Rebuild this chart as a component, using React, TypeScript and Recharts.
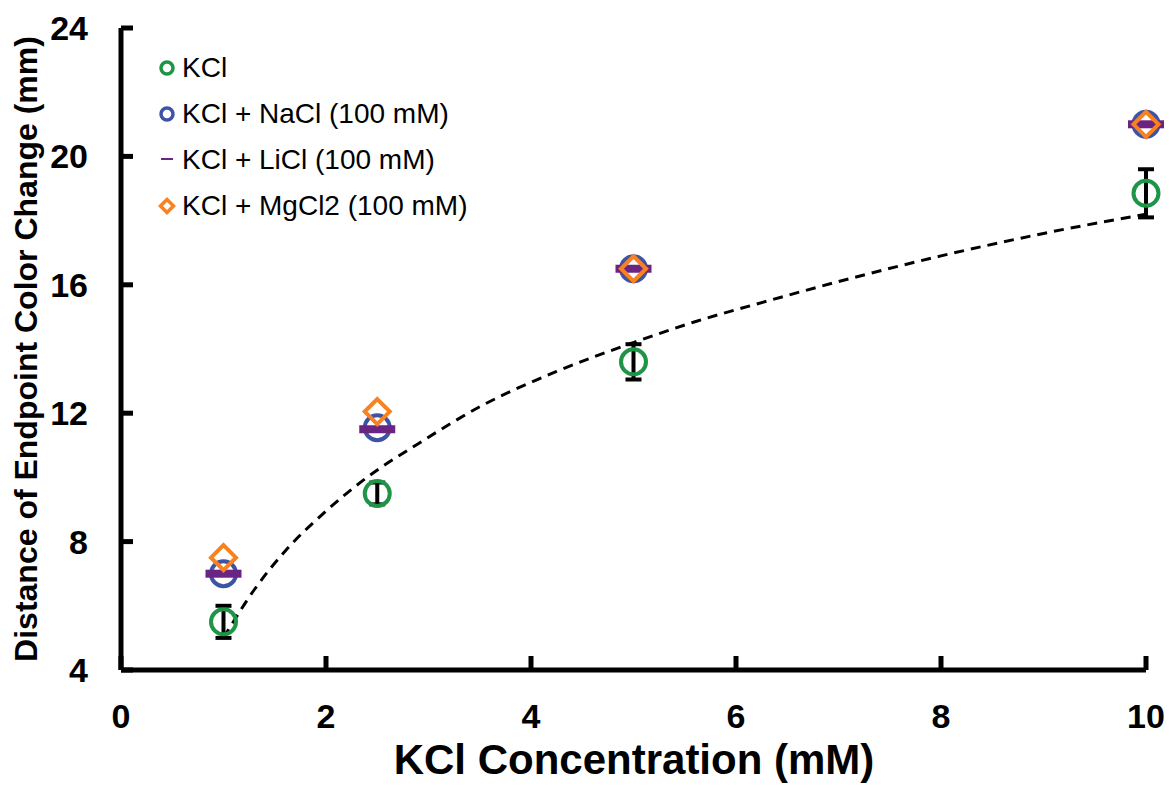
import React from "react";
import {
  ComposedChart,
  Scatter,
  Line,
  XAxis,
  YAxis,
  ErrorBar,
  Legend,
} from "recharts";

// KCl concentration (mM) for every series
const concentrations = [1, 2.5, 5, 10];
const kclValues = [5.5, 9.5, 13.6, 18.85];
const kclErrors = [0.5, 0.34, 0.55, 0.75];
const naclValues = [7.0, 11.55, 16.5, 21.0];
const liclValues = [7.0, 11.5, 16.5, 21.0];
const mgcl2Values = [7.5, 12.05, 16.5, 21.0];

// dashed trend curve
const trendX = [1, 1.3, 1.6, 2, 2.4, 2.9, 3.5, 4.25, 5, 5.6, 6.2, 7, 8, 9, 10];
const trendY = [5.0, 6.5, 7.7, 8.95, 10.0, 11.05, 12.2, 13.3, 14.2, 14.85, 15.4, 16.1, 16.9, 17.6, 18.2];

const xTicks = [0, 2, 4, 6, 8, 10];
const yTicks = [4, 8, 12, 16, 20, 24];

const GREEN = "#1e9447";
const BLUE = "#3e53a4";
const PURPLE = "#6b2481";
const ORANGE = "#f7821f";
const FONT = "'Liberation Sans', Arial, sans-serif";

const kclData = concentrations.map((x, i) => ({ x, y: kclValues[i], err: kclErrors[i] }));
const naclData = concentrations.map((x, i) => ({ x, y: naclValues[i] }));
const liclData = concentrations.map((x, i) => ({ x, y: liclValues[i] }));
const mgcl2Data = concentrations.map((x, i) => ({ x, y: mgcl2Values[i] }));
const trendData = trendX.map((x, i) => ({ x, y: trendY[i] }));

const legendItems = [
  { name: "KCl", kind: "circle", color: GREEN },
  { name: "KCl + NaCl (100 mM)", kind: "circle", color: BLUE },
  { name: "KCl + LiCl (100 mM)", kind: "dash", color: PURPLE },
  { name: "KCl + MgCl2 (100 mM)", kind: "diamond", color: ORANGE },
];

// marker shapes
const Ring = (color: string) => (props: any) => {
  const { cx, cy } = props;
  return <circle cx={cx} cy={cy} r={12.5} fill="none" stroke={color} strokeWidth={4} />;
};

const Bar = (props: any) => {
  const { cx, cy } = props;
  return <rect x={cx - 18} y={cy - 4} width={36} height={8} fill={PURPLE} />;
};

const Diamond = (props: any) => {
  const { cx, cy } = props;
  const r = 12.5;
  return (
    <polygon
      points={`${cx},${cy - r} ${cx + r},${cy} ${cx},${cy + r} ${cx - r},${cy}`}
      fill="none"
      stroke={ORANGE}
      strokeWidth={4}
    />
  );
};

const Nothing = () => <g />;

// ticks drawn inside the plot, labels outside
const YTick = (props: any) => {
  const { x, y, payload } = props;
  return (
    <g>
      <line x1={x} x2={x + 12} y1={y} y2={y} stroke="#000" strokeWidth={5} />
      <text x={x - 33} y={y + 12} textAnchor="end" fontSize={34} fontWeight="bold" fontFamily={FONT} fill="#000">
        {payload.value}
      </text>
    </g>
  );
};

const XTick = (props: any) => {
  const { x, y, payload } = props;
  return (
    <g>
      <line x1={x} x2={x} y1={y} y2={y - 14} stroke="#000" strokeWidth={5} />
      <text x={x} y={y + 58} textAnchor="middle" fontSize={34} fontWeight="bold" fontFamily={FONT} fill="#000">
        {payload.value}
      </text>
    </g>
  );
};

const LegendIcon = ({ kind, color }: { kind: string; color: string }) => (
  <svg width={18} height={18} style={{ display: "block" }}>
    {kind === "circle" && <circle cx={9} cy={9} r={6} fill="none" stroke={color} strokeWidth={3.5} />}
    {kind === "dash" && <line x1={3} x2={15} y1={8} y2={8} stroke={color} strokeWidth={2} />}
    {kind === "diamond" && (
      <polygon points="9,2.5 15.5,9 9,15.5 2.5,9" fill="none" stroke={color} strokeWidth={3.5} />
    )}
  </svg>
);

const LegendBox = () => (
  <div style={{ fontFamily: FONT, fontSize: 28, color: "#000" }}>
    {legendItems.map((item) => (
      <div key={item.name} style={{ display: "flex", alignItems: "center", height: 46, whiteSpace: "nowrap" }}>
        <LegendIcon kind={item.kind} color={item.color} />
        <span style={{ marginLeft: 6 }}>{item.name}</span>
      </div>
    ))}
  </div>
);

export default function App() {
  return (
    <div style={{ position: "absolute", left: 0, top: 0, width: 1169, height: 791, background: "#fff" }}>
      <ComposedChart width={1169} height={791} margin={{ top: 28, right: 23, bottom: 91, left: 0 }}>
        <XAxis
          type="number"
          dataKey="x"
          domain={[0, 10]}
          ticks={xTicks}
          tickSize={0}
          tickMargin={0}
          tickLine={false}
          axisLine={{ stroke: "#000", strokeWidth: 5 }}
          tick={<XTick />}
          height={30}
        />
        <YAxis
          type="number"
          dataKey="y"
          domain={[4, 24]}
          ticks={yTicks}
          tickSize={0}
          tickMargin={0}
          tickLine={false}
          axisLine={{ stroke: "#000", strokeWidth: 5 }}
          tick={<YTick />}
          width={121}
        />
        <Legend
          layout="vertical"
          align="center"
          verticalAlign="middle"
          wrapperStyle={{ top: 45, left: 158, width: 360 }}
          content={() => <LegendBox />}
        />
        <Scatter name="KCl" data={kclData} shape={Ring(GREEN)} isAnimationActive={false} legendType="none" />
        <Line
          data={trendData}
          dataKey="y"
          type="monotone"
          stroke="#000"
          strokeWidth={3}
          strokeDasharray="10 7"
          dot={false}
          activeDot={false}
          isAnimationActive={false}
          legendType="none"
        />
        <Scatter data={kclData} shape={Nothing} isAnimationActive={false} legendType="none">
          <ErrorBar dataKey="err" direction="y" width={8} strokeWidth={4} stroke="#000" />
        </Scatter>
        <Scatter name="KCl + NaCl (100 mM)" data={naclData} shape={Ring(BLUE)} isAnimationActive={false} legendType="none" />
        <Scatter name="KCl + LiCl (100 mM)" data={liclData} shape={Bar} isAnimationActive={false} legendType="none" />
        <Scatter name="KCl + MgCl2 (100 mM)" data={mgcl2Data} shape={Diamond} isAnimationActive={false} legendType="none" />
        <text x={634} y={774} textAnchor="middle" fontSize={42} fontWeight="bold" fontFamily={FONT} fill="#000">
          KCl Concentration (mM)
        </text>
        <text
          x={37}
          y={349}
          transform="rotate(-90, 37, 349)"
          textAnchor="middle"
          fontSize={32}
          fontWeight="bold"
          fontFamily={FONT}
          fill="#000"
        >
          Distance of Endpoint Color Change (mm)
        </text>
      </ComposedChart>
    </div>
  );
}
